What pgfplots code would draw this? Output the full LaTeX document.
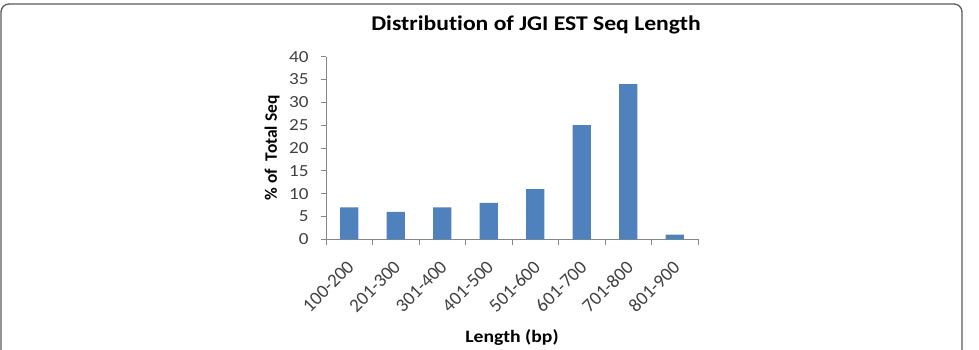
\documentclass[border=0pt]{standalone}
\usepackage{pgfplots}
\pgfplotsset{compat=1.18}
\usepackage{fontspec}
\setmainfont{Carlito}[Ligatures=NoCommon]
\definecolor{barblue}{HTML}{4F81BD}
\definecolor{axisgray}{HTML}{868686}
\definecolor{labelgray}{HTML}{404040}
% horizontally widened text, as in the chart's original rendering
\newcommand{\wide}[1]{\scalebox{1.13}[1]{#1}}

\begin{document}
\begin{tikzpicture}[x=1bp,y=1bp]
\begin{axis}[
  at={(326bp,110.7bp)}, anchor=south west,
  scale only axis, width=372bp, height=182.6bp,
  xmin=-0.5, xmax=7.5, ymin=0, ymax=40,
  axis x line*=bottom, axis y line*=left,
  axis line style={axisgray, line width=0.8bp, -},
  ytick={0,5,...,40},
  xtick={0,...,7},
  xticklabels={100-200,201-300,301-400,401-500,501-600,601-700,701-800,801-900},
  minor xtick={-0.5,0.5,...,7.5},
  tick align=outside,
  major tick length=5bp, minor tick length=6bp,
  ytick style={axisgray, line width=0.8bp},
  xtick style={draw=none},
  minor x tick style={axisgray, line width=0.8bp, draw=axisgray},
  tick label style={font=\fontsize{17}{19}\selectfont, text=labelgray},
  /pgf/number format/assume math mode=true,
  yticklabel={\wide{\pgfmathprintnumber{\tick}}},
  yticklabel style={xshift=-9bp},
  xticklabel style={font=\fontsize{19}{21}\selectfont, xshift=-3bp, yshift=-15bp, rotate=45, anchor=north east, inner sep=0pt},
  ylabel={\% of\ \ Total Seq},
  xlabel={\wide{Length (bp)}},
  label style={font=\bfseries\fontsize{17.5}{20}\selectfont},
  ylabel style={at={(axis description cs:-0.145,0.5)}, anchor=center},
  xlabel style={at={(axis description cs:0.5,-0.54)}, anchor=center},
  ybar, bar width=18.3bp,
]
\addplot[fill=barblue, draw=none] coordinates {
  (0,7) (1,6) (2,7) (3,8) (4,11) (5,25) (6,34) (7,1)
};
\end{axis}
% chart title and frame
\node[font=\bfseries\fontsize{21}{24}\selectfont] at (536bp,325bp) {\wide{Distribution of JGI EST Seq Length}};
\draw[black!65, line width=1.3bp, rounded corners=8bp] (1bp,-20bp) -- (1bp,346bp) -- (962bp,346bp) -- (962bp,-20bp);
\pgfresetboundingbox
\path[use as bounding box] (0bp,0bp) rectangle (979bp,350bp);
\end{tikzpicture}
\end{document}
